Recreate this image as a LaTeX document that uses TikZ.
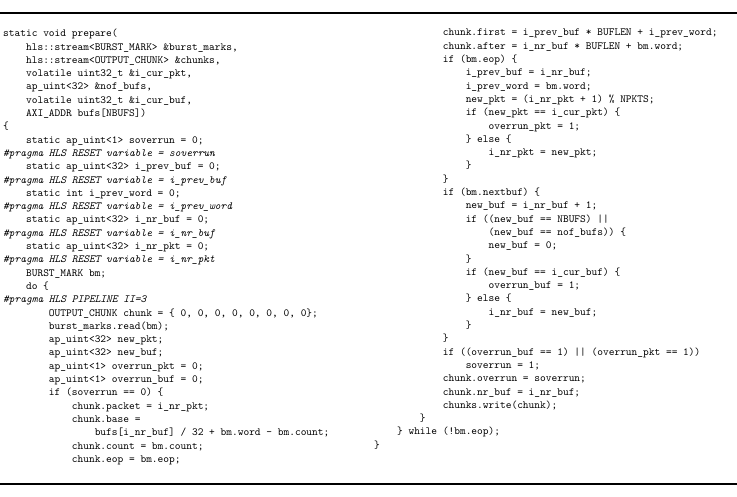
\documentclass[tikz,border=0pt]{standalone}
\usepackage{fontspec}
\setmonofont{Latin Modern Mono}
\newcommand\ind[1]{\hspace*{\dimexpr #1\fontcharwd\font`x\relax}}
\newcommand\prag[1]{{\itshape #1}}
\begin{document}
\begin{tikzpicture}[x=1pt,y=-1pt,
  code/.style={anchor=north west,inner sep=0pt,align=left,font=\ttfamily\fontsize{10.9}{13.3}\selectfont},
  rulel/.style={line width=1.3pt}]
\useasboundingbox (0,0) rectangle (737,497);
\coordinate (t1) at (0,13); \coordinate (t2) at (737,13);
\coordinate (b1) at (0,484); \coordinate (b2) at (737,484);
\draw[rulel] (t1) -- (t2);
\draw[rulel] (b1) -- (b2);
\node[code] (left) at (3,29) {static void prepare(\\
\ind4hls::stream<BURST\_MARK> \&burst\_marks,\\
\ind4hls::stream<OUTPUT\_CHUNK> \&chunks,\\
\ind4volatile uint32\_t \&i\_cur\_pkt,\\
\ind4ap\_uint<32> \&nof\_bufs,\\
\ind4volatile uint32\_t \&i\_cur\_buf,\\
\ind4AXI\_ADDR bufs[NBUFS])\\
\{\\
\ind4static ap\_uint<1> soverrun = 0;\\
\prag{\#pragma HLS RESET variable = soverrun}\\
\ind4static ap\_uint<32> i\_prev\_buf = 0;\\
\prag{\#pragma HLS RESET variable = i\_prev\_buf}\\
\ind4static int i\_prev\_word = 0;\\
\prag{\#pragma HLS RESET variable = i\_prev\_word}\\
\ind4static ap\_uint<32> i\_nr\_buf = 0;\\
\prag{\#pragma HLS RESET variable = i\_nr\_buf}\\
\ind4static ap\_uint<32> i\_nr\_pkt = 0;\\
\prag{\#pragma HLS RESET variable = i\_nr\_pkt}\\
\ind4BURST\_MARK bm;\\
\ind4do \{\\
\prag{\#pragma HLS PIPELINE II=3}\\
\ind8OUTPUT\_CHUNK chunk = \{ 0, 0, 0, 0, 0, 0, 0, 0\};\\
\ind8burst\_marks.read(bm);\\
\ind8ap\_uint<32> new\_pkt;\\
\ind8ap\_uint<32> new\_buf;\\
\ind8ap\_uint<1> overrun\_pkt = 0;\\
\ind8ap\_uint<1> overrun\_buf = 0;\\
\ind8if (soverrun == 0) \{\\
\ind{12}chunk.packet = i\_nr\_pkt;\\
\ind{12}chunk.base =\\
\ind{16}bufs[i\_nr\_buf] / 32 + bm.word - bm.count;\\
\ind{12}chunk.count = bm.count;\\
\ind{12}chunk.eop = bm.eop;};
\node[code] (right) at (374,29) {\ind{12}chunk.first = i\_prev\_buf * BUFLEN + i\_prev\_word;\\
\ind{12}chunk.after = i\_nr\_buf * BUFLEN + bm.word;\\
\ind{12}if (bm.eop) \{\\
\ind{16}i\_prev\_buf = i\_nr\_buf;\\
\ind{16}i\_prev\_word = bm.word;\\
\ind{16}new\_pkt = (i\_nr\_pkt + 1) \% NPKTS;\\
\ind{16}if (new\_pkt == i\_cur\_pkt) \{\\
\ind{20}overrun\_pkt = 1;\\
\ind{16}\} else \{\\
\ind{20}i\_nr\_pkt = new\_pkt;\\
\ind{16}\}\\
\ind{12}\}\\
\ind{12}if (bm.nextbuf) \{\\
\ind{16}new\_buf = i\_nr\_buf + 1;\\
\ind{16}if ((new\_buf == NBUFS) ||\\
\ind{20}(new\_buf == nof\_bufs)) \{\\
\ind{20}new\_buf = 0;\\
\ind{16}\}\\
\ind{16}if (new\_buf == i\_cur\_buf) \{\\
\ind{20}overrun\_buf = 1;\\
\ind{16}\} else \{\\
\ind{20}i\_nr\_buf = new\_buf;\\
\ind{16}\}\\
\ind{12}\}\\
\ind{12}if ((overrun\_buf == 1) || (overrun\_pkt == 1))\\
\ind{16}soverrun = 1;\\
\ind{12}chunk.overrun = soverrun;\\
\ind{12}chunk.nr\_buf = i\_nr\_buf;\\
\ind{12}chunks.write(chunk);\\
\ind8\}\\
\ind4\} while (!bm.eop);\\
\}};
\end{tikzpicture}
\end{document}
